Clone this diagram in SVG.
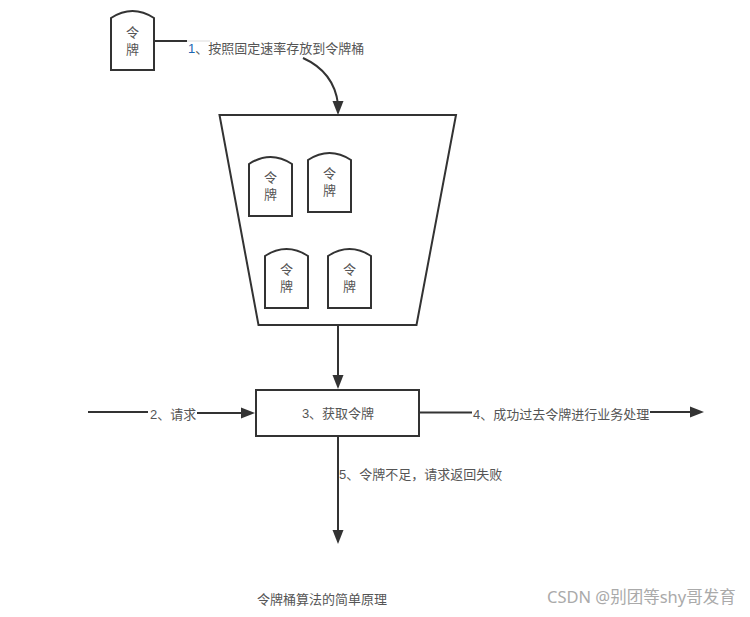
<svg xmlns="http://www.w3.org/2000/svg" width="750" height="617" viewBox="0 0 750 617">
<style>
.s{fill:#fff;stroke:#333;stroke-width:2}
.c{fill:none;stroke:#333;stroke-width:2}
.h{fill:#333}
text{font-family:"Liberation Sans","Noto Sans CJK SC",sans-serif;font-size:13px;fill:#555}
.m{text-anchor:middle}
</style>
<defs>
<path id="t" class="s" d="M0 7Q21.500 -7 43 7V59H0Z"/>
</defs>
<rect width="750" height="617" fill="#fff"/>
<g id="connectors">
<path class="c" d="M154 41H187"/>
<path d="M187 41H210" fill="none" stroke="#ddd" stroke-width="1"/>
<path class="c" d="M303 58Q334 72 338 104"/>
<path class="h" d="M338 115L332.500 101H343.500Z"/>
<path class="c" d="M338 325V379"/>
<path class="h" d="M338 389L332.500 375H343.500Z"/>
<path class="c" d="M88 412H148"/>
<path class="c" d="M197 413H244"/>
<path class="h" d="M255 413L241 407.500V418.500Z"/>
<path class="c" d="M420 412.500H472"/>
<path class="c" d="M650 412H692"/>
<path class="h" d="M704 412L690 406.500V417.500Z"/>
<path class="c" d="M338 436V533"/>
<path class="h" d="M338 544L332.500 530H343.500Z"/>
</g>
<g id="source-token"><use href="#t" x="111" y="11"/><text class="m" y="37"><tspan x="132.500">令</tspan><tspan x="132.500" dy="17">牌</tspan></text></g>
<g id="bucket"><path class="s" d="M219.500 115H456L416.500 325H258.500Z"/></g>
<g id="token-a"><use href="#t" x="249" y="157"/><text class="m" y="182"><tspan x="270.500">令</tspan><tspan x="270.500" dy="17">牌</tspan></text></g>
<g id="token-b"><use href="#t" x="308" y="153"/><text class="m" y="178"><tspan x="329.500">令</tspan><tspan x="329.500" dy="17">牌</tspan></text></g>
<g id="token-c"><use href="#t" x="265" y="249"/><text class="m" y="274"><tspan x="286.500">令</tspan><tspan x="286.500" dy="17">牌</tspan></text></g>
<g id="token-d"><use href="#t" x="328" y="249"/><text class="m" y="274"><tspan x="349.500">令</tspan><tspan x="349.500" dy="17">牌</tspan></text></g>
<g id="get-token"><rect class="s" x="256" y="390" width="163" height="46"/><text class="m" x="338" y="418">3、获取令牌</text></g>
<g id="labels">
<text x="188" y="53"><tspan fill="#1a66b3">1</tspan>、按照固定速率存放到令牌桶</text>
<text x="150" y="419">2、请求</text>
<text x="473" y="419">4、成功过去令牌进行业务处理</text>
<text x="339" y="479">5、令牌不足，请求返回失败</text>
<text x="257" y="604">令牌桶算法的简单原理</text>
<text x="547" y="603" style="font-family:'Noto Sans','Noto Sans CJK SC',sans-serif;font-size:16.500px;fill:#aaa">CSDN @别团等shy哥发育</text>
</g>
</svg>
